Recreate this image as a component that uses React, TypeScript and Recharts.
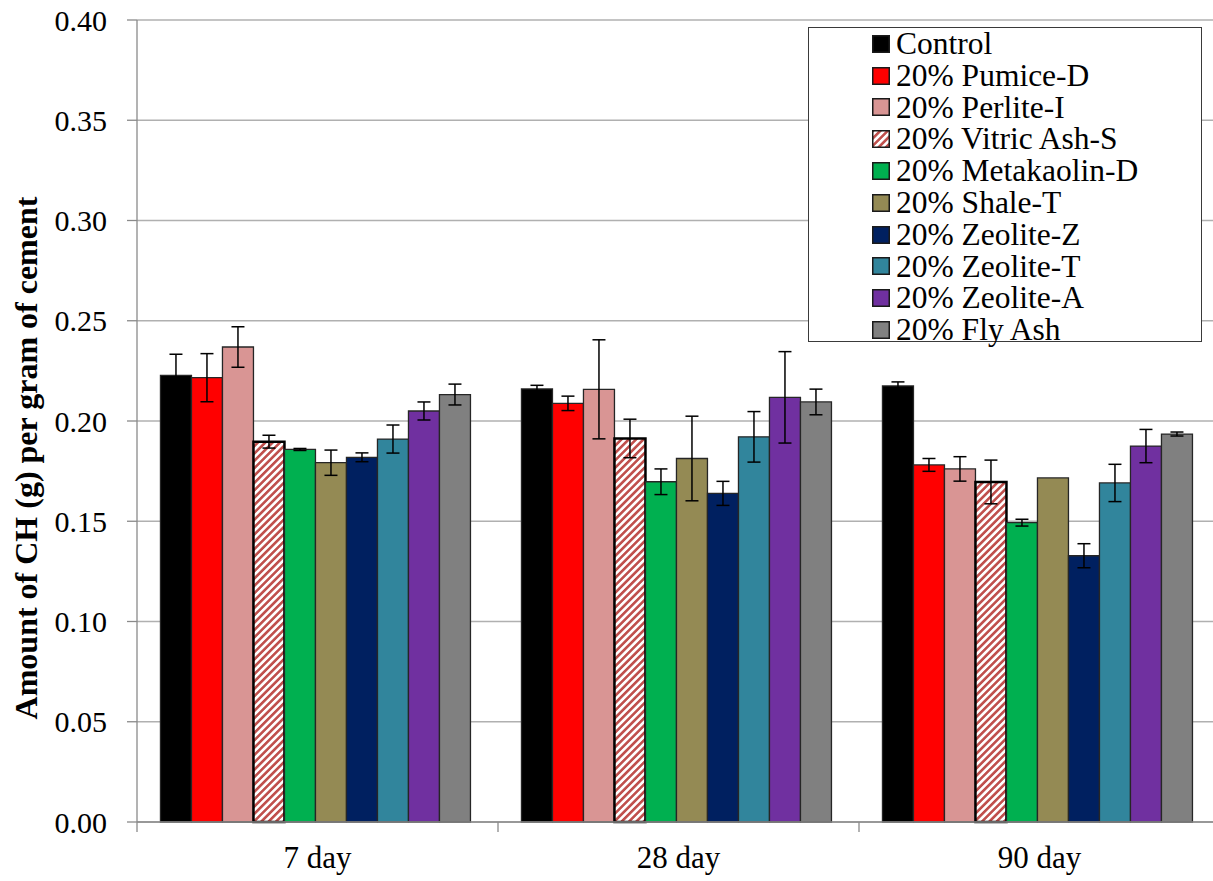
import React from "react"
import { Bar, BarChart, CartesianGrid, ErrorBar, XAxis, YAxis } from "recharts"

const ages = ["7 day", "28 day", "90 day"]

const control = [0.2228, 0.216, 0.2175]
const controlErr = [0.0105, 0.0018, 0.002]
const pumiceD = [0.2216, 0.2088, 0.1781]
const pumiceDErr = [0.012, 0.0036, 0.0032]
const perliteI = [0.2369, 0.2158, 0.1761]
const perliteIErr = [0.0101, 0.0247, 0.0061]
const vitricAshS = [0.1897, 0.1913, 0.1696]
const vitricAshSErr = [0.0032, 0.0096, 0.0109]
const metakaolinD = [0.1858, 0.1697, 0.1493]
const metakaolinDErr = [0.0005, 0.0064, 0.0017]
const shaleT = [0.1792, 0.1813, 0.1716]
const shaleTErr = [0.0063, 0.0211, 0]
const zeoliteZ = [0.1819, 0.1639, 0.1328]
const zeoliteZErr = [0.0022, 0.006, 0.006]
const zeoliteT = [0.191, 0.1921, 0.1691]
const zeoliteTErr = [0.007, 0.0126, 0.0093]
const zeoliteA = [0.205, 0.2118, 0.1875]
const zeoliteAErr = [0.0045, 0.0228, 0.0083]
const flyAsh = [0.2132, 0.2095, 0.1935]
const flyAshErr = [0.0052, 0.0064, 0.001]

const yTicks = [0, 0.05, 0.1, 0.15, 0.2, 0.25, 0.3, 0.35, 0.4]

const series = [
  { key: "control", name: "Control", values: control, errors: controlErr, fill: "#000000" },
  { key: "pumiceD", name: "20% Pumice-D", values: pumiceD, errors: pumiceDErr, fill: "#ff0000" },
  { key: "perliteI", name: "20% Perlite-I", values: perliteI, errors: perliteIErr, fill: "#d99594" },
  { key: "vitricAshS", name: "20% Vitric Ash-S", values: vitricAshS, errors: vitricAshSErr, fill: "url(#vitricHatch)" },
  { key: "metakaolinD", name: "20% Metakaolin-D", values: metakaolinD, errors: metakaolinDErr, fill: "#00b050" },
  { key: "shaleT", name: "20% Shale-T", values: shaleT, errors: shaleTErr, fill: "#948a54" },
  { key: "zeoliteZ", name: "20% Zeolite-Z", values: zeoliteZ, errors: zeoliteZErr, fill: "#002060" },
  { key: "zeoliteT", name: "20% Zeolite-T", values: zeoliteT, errors: zeoliteTErr, fill: "#31859c" },
  { key: "zeoliteA", name: "20% Zeolite-A", values: zeoliteA, errors: zeoliteAErr, fill: "#7030a0" },
  { key: "flyAsh", name: "20% Fly Ash", values: flyAsh, errors: flyAshErr, fill: "#808080" },
]

const data = ages.map((age, i) => {
  const row: Record<string, string | number> = { age }
  series.forEach((s) => {
    row[s.key] = s.values[i]
    row[s.key + "Err"] = s.errors[i]
  })
  return row
})

const serif = "'Liberation Serif', 'Times New Roman', serif"
const axisGray = "#8a8a8a"

// category label plus a boundary tick on each side of the band
const AgeTick = (props: any) => {
  const { x, y, payload, index, visibleTicksCount } = props
  const half = payload?.offset ?? 0
  const last = index === visibleTicksCount - 1
  return (
    <g>
      <line x1={x - half} x2={x - half} y1={y} y2={y + 10} stroke={axisGray} strokeWidth={1.3} />
      {last && <line x1={x + half} x2={x + half} y1={y} y2={y + 10} stroke={axisGray} strokeWidth={1.3} />}
      <text x={x} y={y + 46} textAnchor="middle" fontFamily={serif} fontSize={31} fill="#000">
        {payload.value}
      </text>
    </g>
  )
}

const YTitle = () => (
  <text
    x={37}
    y={458}
    transform="rotate(-90 37 458)"
    textAnchor="middle"
    fontFamily={serif}
    fontWeight="bold"
    fontSize={32}
    fill="#000"
  >
    Amount of CH (g) per gram of cement
  </text>
)

const Legend = () => (
  <div
    style={{
      position: "absolute",
      left: 808,
      top: 27,
      width: 392,
      height: 313,
      border: "1.5px solid #3a3a3a",
      background: "#fff",
      boxSizing: "content-box",
      fontFamily: serif,
      fontSize: 31.5,
      lineHeight: "31.8px",
      color: "#000",
    }}
  >
    {series.map((s) => (
      <div key={s.key} style={{ display: "flex", alignItems: "center", paddingLeft: 63, whiteSpace: "nowrap" }}>
        <svg width={18} height={18} style={{ marginRight: 6, flex: "none" }}>
          <rect x={0.75} y={0.75} width={16.5} height={16.5} fill={s.fill} stroke="#1a1a1a" strokeWidth={1.5} />
        </svg>
        <span>{s.name}</span>
      </div>
    ))}
  </div>
)

export default function App() {
  return (
    <div
      style={{
        position: "absolute",
        left: 0,
        top: 0,
        width: 1213,
        height: 881,
        overflow: "hidden",
        background: "#fff",
      }}
    >
      <svg width={0} height={0} style={{ position: "absolute" }}>
        <defs>
          <pattern id="vitricHatch" patternUnits="userSpaceOnUse" width={5.2} height={5.2} patternTransform="rotate(45)">
            <rect x={0} y={0} width={5.2} height={5.2} fill="#ffffff" />
            <rect x={0} y={0} width={2.6} height={5.2} fill="#c0504d" />
          </pattern>
        </defs>
      </svg>
      <BarChart
        width={1222}
        height={881}
        data={data}
        margin={{ top: 20, right: 2, bottom: 0, left: 0 }}
        barCategoryGap="6.5%"
        barGap={0}
      >
        <CartesianGrid vertical={false} stroke="#b0b0b0" strokeWidth={1.3} />
        <XAxis
          dataKey="age"
          height={59}
          tickLine={false}
          tickSize={0}
          tickMargin={0}
          stroke={axisGray}
          strokeWidth={1.3}
          tick={<AgeTick />}
          interval={0}
        />
        <YAxis
          width={137}
          domain={[0, 0.4]}
          ticks={yTicks}
          interval={0}
          tickFormatter={(v: number) => v.toFixed(2)}
          tickSize={10}
          tickMargin={20}
          stroke={axisGray}
          strokeWidth={1.3}
          tick={{ fill: "#000", fontSize: 30, fontFamily: serif }}
          label={{ content: <YTitle /> }}
        />
        {series.map((s) => (
          <Bar
            key={s.key}
            dataKey={s.key}
            name={s.name}
            fill={s.fill}
            stroke={s.key === "vitricAshS" ? "#000" : "#262626"}
            strokeWidth={s.key === "vitricAshS" ? 2.5 : 1.3}
            isAnimationActive={false}
          >
            <ErrorBar dataKey={s.key + "Err"} width={6.5} stroke="#000" strokeWidth={1.5} />
          </Bar>
        ))}
      </BarChart>
      <Legend />
    </div>
  )
}
